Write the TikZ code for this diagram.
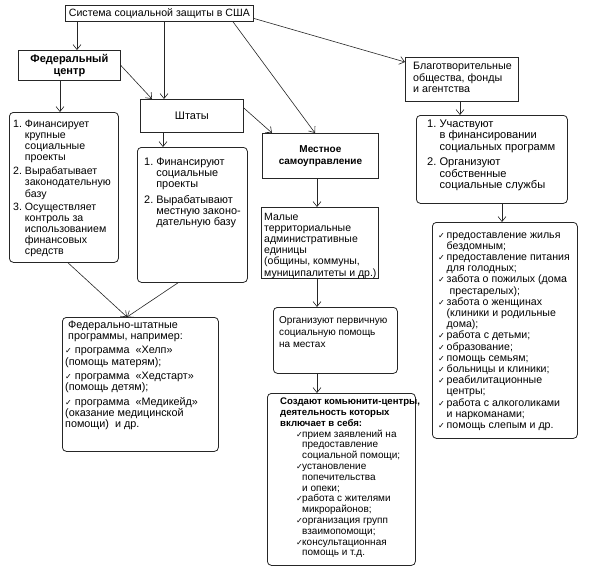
\documentclass[tikz,border=0pt]{standalone}
\usepackage{fontspec}
\setmainfont{Liberation Sans}
\newfontfamily\dejavu{DejaVu Sans}
\usetikzlibrary{arrows.meta,calc}
\newcommand\fsz[2]{\fontsize{#1}{#2}\selectfont}
\newcommand\chk{{\dejavu\fontsize{8}{8}\selectfont ✓}}
\begin{document}
\begin{tikzpicture}[x=1pt,y=-1pt,
  box/.style={draw=black!85,line width=0.8pt,anchor=north west,inner sep=0pt,font=\fsz{10}{12}},
  rbox/.style={box,rounded corners=4pt},
  txt/.style={anchor=north west,inner sep=0pt,align=left},
  arr/.style={draw=black!85,line width=0.6pt,-{Straight Barb[length=5pt,width=8pt]}}]

\useasboundingbox[fill=white] (0,0) rectangle (591,581);

% ---- boxes
\node[box,minimum width=188pt,minimum height=16pt,font=\fsz{10.6}{12}] (top) at (65,5) {Система социальной защиты в США};
\node[box,minimum width=102pt,minimum height=30pt,align=center,font=\bfseries\fsz{11}{12}] (fed) at (18,50) {Федеральный\\центр};
\node[box,minimum width=103pt,minimum height=33pt,font=\fsz{11}{12}] (states) at (140,99) {Штаты};
\node[box,minimum width=116pt,minimum height=45pt,align=center,font=\bfseries\fsz{10}{12}] (local) at (262,133) {Местное\\самоуправление};
\node[box,minimum width=113pt,minimum height=44pt] (charity) at (405,57) {};
\node[rbox,minimum width=109pt,minimum height=150pt] (fedlist) at (9,112) {};
\node[rbox,minimum width=110pt,minimum height=135pt] (statelist) at (137,147) {};
\node[rbox,minimum width=151pt,minimum height=88pt] (partic) at (416,115) {};
\node[rbox,minimum width=145pt,minimum height=216pt] (services) at (432,222) {};
\node[rbox,minimum width=156pt,minimum height=134pt] (fedstate) at (62,317) {};
\node[box,minimum width=117pt,minimum height=71pt] (small) at (261,207) {};
\node[rbox,minimum width=124pt,minimum height=66pt] (primary) at (273,307) {};
\node[rbox,minimum width=148pt,minimum height=172pt] (community) at (267,393) {};

% ---- texts
\node[txt,font=\fsz{10.7}{11}] (charityT) at (413,62) {\begin{tabular}[t]{@{}l@{}}Благотворительные\\общества, фонды\\и агентства\end{tabular}};

\node[txt,font=\fsz{10.6}{11}] (fedlistT) at (13,120) {\begin{tabular}[t]{@{}r@{\ }l@{}}
1. & Финансирует\\ & крупные\\ & социальные\\ & проекты\\[3pt]
2. & Вырабатывает\\ & законодательную\\ & базу\\[2pt]
3. & Осуществляет\\ & контроль за\\ & использованием\\ & финансовых\\ & средств\end{tabular}};

\node[txt,font=\fsz{10.9}{11}] (statelistT) at (144,158) {\begin{tabular}[t]{@{}r@{\ }l@{}}
1. & Финансируют\\ & социальные\\ & проекты\\[4pt]
2. & Вырабатывают\\ & местную законо-\\ & дательную базу\end{tabular}};

\node[txt,font=\fsz{11.1}{11.5}] (particT) at (427,119) {\begin{tabular}[t]{@{}r@{\ }l@{}}
1. & Участвуют\\ & в финансировании\\ & социальных программ\\[4pt]
2. & Организуют\\ & собственные\\ & социальные службы\end{tabular}};

\node[txt,font=\fsz{10.6}{11.2}] (servicesT) at (438,230) {\begin{tabular}[t]{@{}l@{\,}l@{}}
\chk & предоставление жилья\\ & бездомным;\\
\chk & предоставление питания\\ & для голодных;\\
\chk & забота о пожилых (дома\\ & \ престарелых);\\
\chk & забота о женщинах\\ & (клиники и родильные\\ & дома);\\
\chk & работа с детьми;\\
\chk & образование;\\
\chk & помощь семьям;\\
\chk & больницы и клиники;\\
\chk & реабилитационные\\ & центры;\\
\chk & работа с алкоголиками\\ & и наркоманами;\\
\chk & помощь слепым и др.\end{tabular}};

\node[txt,font=\fsz{10.8}{11.3}] (fedstateT) at (65,320) {\begin{tabular}[t]{@{}l@{}}
\hspace*{3pt}Федерально-штатные\\ \hspace*{3pt}программы, например:\\[3pt]
\chk\ программа \ «Хелп»\\ (помощь матерям);\\[3pt]
\chk\ программа \ «Хедстарт»\\ (помощь детям);\\[3pt]
\chk\ программа \ «Медикейд»\\ (оказание медицинской\\ помощи) \ и др.\end{tabular}};

\node[txt,font=\fsz{10.5}{11.2}] (smallT) at (264,212) {\begin{tabular}[t]{@{}l@{}}
Малые\\территориальные\\административные\\единицы\\(общины, коммуны,\\муниципалитеты и др.)\end{tabular}};

\node[txt,font=\fsz{10}{12}] (primaryT) at (279,315) {\begin{tabular}[t]{@{}l@{}}
Организуют первичную\\социальную помощь\\на местах\end{tabular}};

\node[txt,font=\fsz{10}{10.8}] (communityT) at (280,397) {\begin{tabular}[t]{@{}l@{}}
{\bfseries\fontsize{9.6}{10.8}\selectfont Создают комьюнити-центры,}\\ {\bfseries\fontsize{9.6}{10.8}\selectfont деятельность которых}\\ {\bfseries\fontsize{9.6}{10.8}\selectfont включает в себя:}\\
\hspace*{16pt}\makebox[6pt][l]{\chk}прием заявлений на\\ \hspace*{22pt}предоставление\\ \hspace*{22pt}социальной помощи;\\
\hspace*{16pt}\makebox[6pt][l]{\chk}установление\\ \hspace*{22pt}попечительства\\ \hspace*{22pt}и опеки;\\
\hspace*{16pt}\makebox[6pt][l]{\chk}работа с жителями\\ \hspace*{22pt}микрорайонов;\\
\hspace*{16pt}\makebox[6pt][l]{\chk}организация групп\\ \hspace*{22pt}взаимопомощи;\\
\hspace*{16pt}\makebox[6pt][l]{\chk}консультационная\\ \hspace*{22pt}помощь и т.д.\end{tabular}};

% ---- connectors
\draw[arr] ([xshift=12pt]top.south west) -- ([xshift=12pt]top.south west |- fed.north);
\draw[arr] ([xshift=99pt]top.south west) -- ([xshift=99pt]top.south west |- states.north);
\draw[arr] ([xshift=168pt]top.south west) -- ([xshift=53pt]local.north west);
\draw[arr] ([yshift=-5pt]top.east) -- ([yshift=-5pt]charity.north west);
\draw[arr] (fed.east) -- ([xshift=12pt]states.north west);
\draw[arr] ([xshift=42pt]fed.south west) -- ([xshift=42pt]fed.south west |- fedlist.north);
\draw[arr] ([xshift=23pt]states.south west) -- ([xshift=23pt]states.south west |- statelist.north);
\draw[arr] ([yshift=-9pt]states.north east) -- ([xshift=10pt]local.north west);
\draw[arr] ([xshift=59pt]fedlist.south west) -- ([xshift=65pt]fedstate.north west);
\draw[arr] ([xshift=41pt]statelist.south west) -- ([xshift=65pt]fedstate.north west);
\draw[arr] ([xshift=55pt]local.south west) -- ([xshift=55pt]local.south west |- small.north);
\draw[arr] ([xshift=55pt]local.south west |- small.south) -- ([xshift=55pt]local.south west |- primary.north);
\draw[arr] ([xshift=55pt]local.south west |- primary.south) -- ([xshift=55pt]local.south west |- community.north);
\draw[arr] ([xshift=55pt]charity.south west) -- ([xshift=55pt]charity.south west |- partic.north);
\draw[arr] ([xshift=86pt]partic.south west) -- ([xshift=86pt]partic.south west |- services.north);
\end{tikzpicture}
\end{document}
